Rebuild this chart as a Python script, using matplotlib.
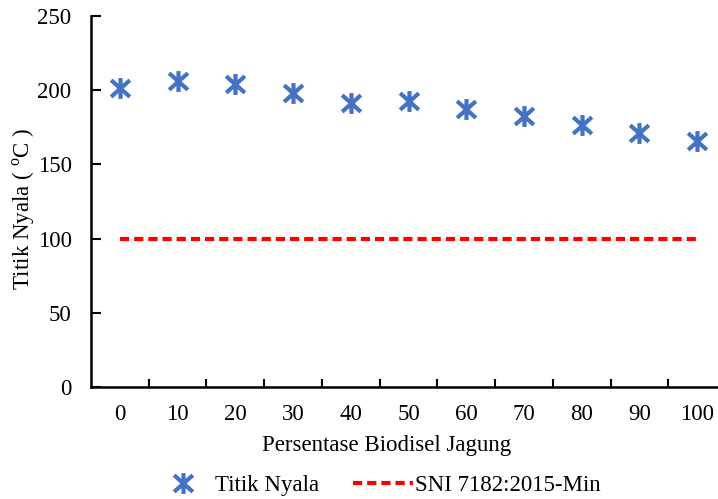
import numpy as np
import matplotlib
matplotlib.use("Agg")
import matplotlib.pyplot as plt
from matplotlib.path import Path

plt.rcParams['font.family'] = ['Liberation Serif', 'DejaVu Serif']
plt.rcParams['mathtext.fontset'] = 'custom'
plt.rcParams['mathtext.rm'] = 'Liberation Serif'

kategori = ['0', '10', '20', '30', '40', '50', '60', '70', '80', '90', '100']
titik_nyala = [201.5, 206, 204, 198, 191.5, 193, 187.5, 182.5, 176.5, 171, 166]
sni_min = [100] * len(kategori)

# excel style star: an x with a vertical bar through it
bintang = Path([(0, -1), (0, 1), (-0.9, -0.8), (0.9, 0.8), (-0.9, 0.8), (0.9, -0.8)],
               [Path.MOVETO, Path.LINETO, Path.MOVETO, Path.LINETO, Path.MOVETO, Path.LINETO])

fig = plt.figure(figsize=(7.18, 4.99), dpi=100)
ax = fig.add_axes([91/718, 1 - 387/499, 635/718, 371/499])

x = np.arange(len(kategori))
ax.plot(x, titik_nyala, linestyle='none', marker=bintang, markersize=15,
        markeredgewidth=3, color='#4472C4', label='Titik Nyala')
ax.plot(x, sni_min, linestyle=(0, (2.2, 1.2)), linewidth=3, color='#FF0000',
        label='SNI 7182:2015-Min')

ax.set_xlim(-0.5, len(kategori) - 0.5)
ax.set_ylim(0, 250)
ax.set_yticks(range(0, 251, 50))
ax.set_xticks(x)
ax.set_xticklabels(kategori)
ax.set_xticks(np.arange(0.5, len(kategori) - 0.5, 1), minor=True)
ax.tick_params(axis='x', which='major', length=0, labelsize=16.5, pad=12)
ax.tick_params(axis='x', which='minor', length=6, width=1.5, direction='in')
ax.tick_params(axis='y', length=7, width=1.5, direction='in', labelsize=16.5, pad=14)

for s in ['top', 'right']:
    ax.spines[s].set_visible(False)
for s in ['left', 'bottom']:
    ax.spines[s].set_linewidth(1.8)

ax.set_xlabel('Persentase Biodisel Jagung', fontsize=16.5)
ax.xaxis.set_label_coords(0.466, -0.13)
ax.set_ylabel('Titik Nyala ( $^{\\mathrm{o}}$C )', fontsize=16.5)
ax.yaxis.set_label_coords(-0.085, 0.48)

fig.legend(loc='lower center', bbox_to_anchor=(0.525, -0.035), ncol=2, frameon=False,
           fontsize=16.5, handlelength=2.6, handletextpad=0.1, columnspacing=1.5)

fig.savefig('out.png', dpi=100)
